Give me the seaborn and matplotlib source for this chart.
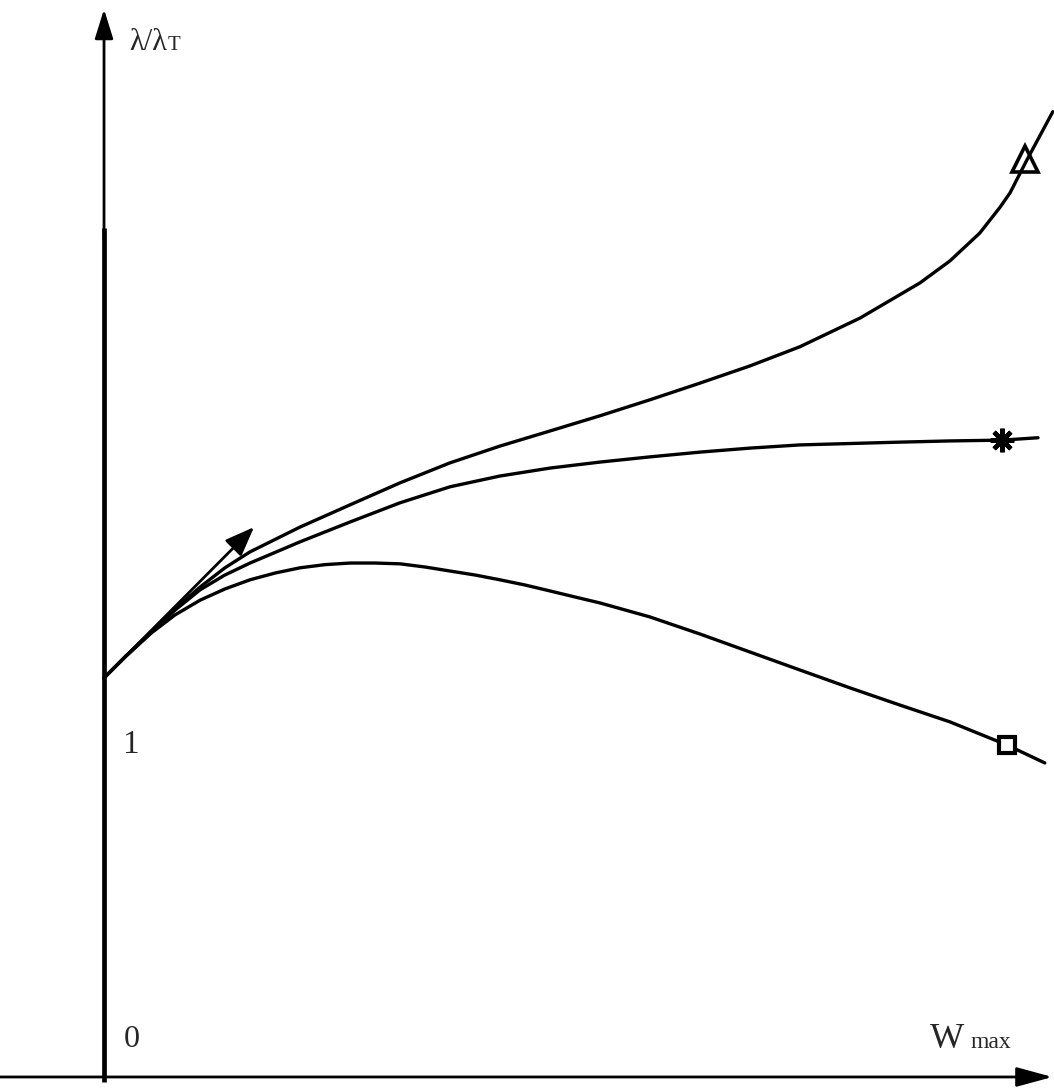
import numpy as np
import pandas as pd
import matplotlib
matplotlib.use("Agg")
import matplotlib.pyplot as plt
import seaborn as sns

# Curve data: x = W_max (arbitrary units), y = lambda / lambda_T
x_up = [0.0, 0.053, 0.115, 0.178, 0.241, 0.303, 0.366, 0.491, 0.617, 0.742, 0.867,
        0.992, 1.118, 1.243, 1.368, 1.494, 1.619, 1.744, 1.895, 2.045, 2.120, 2.195,
        2.246, 2.271, 2.313, 2.378]
y_up = [1.000, 1.053, 1.113, 1.173, 1.228, 1.276, 1.316, 1.378, 1.434, 1.489, 1.539,
        1.581, 1.619, 1.657, 1.697, 1.739, 1.782, 1.830, 1.902, 1.990, 2.045, 2.115,
        2.180, 2.216, 2.298, 2.419]

x_flat = [0.0, 0.053, 0.115, 0.178, 0.241, 0.303, 0.366, 0.491, 0.617, 0.742, 0.867,
          0.992, 1.118, 1.243, 1.368, 1.494, 1.619, 1.744, 1.995, 2.120, 2.251, 2.341]
y_flat = [1.000, 1.053, 1.110, 1.170, 1.221, 1.258, 1.288, 1.341, 1.391, 1.439, 1.479,
          1.506, 1.526, 1.541, 1.554, 1.566, 1.576, 1.584, 1.591, 1.594, 1.596, 1.602]

x_down = [0.0, 0.053, 0.115, 0.178, 0.241, 0.303, 0.366, 0.429, 0.491, 0.554, 0.617,
          0.679, 0.742, 0.805, 0.867, 0.930, 0.992, 1.055, 1.118, 1.180, 1.243, 1.368,
          1.494, 1.619, 1.744, 1.870, 1.995, 2.120, 2.263, 2.358]
y_down = [1.000, 1.053, 1.110, 1.158, 1.195, 1.223, 1.246, 1.263, 1.276, 1.284, 1.288,
          1.288, 1.286, 1.278, 1.268, 1.258, 1.246, 1.233, 1.218, 1.203, 1.188, 1.153,
          1.110, 1.065, 1.020, 0.975, 0.932, 0.890, 0.832, 0.787]

# End markers on each curve
mark_up = (2.308, 2.300)
mark_flat = (2.251, 1.596)
mark_down = (2.263, 0.832)

# Initial tangent arrow
tangent_start = (0.0, 1.0)
tangent_end = (0.376, 1.378)

sns.set_theme(style="white")
plt.rcParams["font.family"] = ["Liberation Serif", "DejaVu Serif"]

fig = plt.figure(figsize=(10.54, 10.88), dpi=100)
ax = fig.add_axes([0, 0, 1, 1])
ax.set_xlim(-0.2607, 2.381)
ax.set_ylim(-0.0276, 2.699)
ax.axis("off")

frames = [
    pd.DataFrame({"x": x_up, "y": y_up, "curve": "up"}),
    pd.DataFrame({"x": x_flat, "y": y_flat, "curve": "flat"}),
    pd.DataFrame({"x": x_down, "y": y_down, "curve": "down"}),
]
df = pd.concat(frames, ignore_index=True)
sns.lineplot(data=df, x="x", y="y", units="curve", estimator=None, sort=False,
             color="black", lw=2.4, ax=ax, legend=False)
for ln in ax.lines:
    ln.set_solid_joinstyle("round")
    ln.set_solid_capstyle("round")

# Markers
ax.plot(*mark_up, marker="^", ms=19, mfc="none", mec="black", mew=2.6, zorder=5)
ax.plot(*mark_flat, marker=(8, 2, 0), ms=17, mec="black", mew=3.2, zorder=5)
ax.plot(*mark_flat, marker="o", ms=8, mfc="black", mec="black", zorder=5)
ax.plot(*mark_down, marker="s", ms=12, mfc="white", mec="black", mew=3.0, zorder=5)

# Tangent arrow
ax.annotate("", xy=tangent_end, xytext=tangent_start,
            arrowprops=dict(arrowstyle="-|>,head_length=0.9,head_width=0.35",
                            color="black", lw=2.0, shrinkA=0, shrinkB=0,
                            mutation_scale=20))

# Axes lines
ax.plot([0, 0], [-0.0125, 2.128], color="black", lw=3.4, solid_capstyle="butt")
ax.annotate("", xy=(0, 2.676), xytext=(0, 2.10),
            arrowprops=dict(arrowstyle="-|>,head_length=0.9,head_width=0.28",
                            color="black", lw=2.0, shrinkA=0, shrinkB=0,
                            mutation_scale=20))
ax.annotate("", xy=(2.377, 0.0), xytext=(-0.2607, 0.0),
            arrowprops=dict(arrowstyle="-|>,head_length=1.1,head_width=0.3",
                            color="black", lw=2.0, shrinkA=0, shrinkB=0,
                            mutation_scale=20))

# Labels
ax.text(0.063, 2.592, "λ/λ", fontsize=22, ha="left", va="center")
ax.text(0.160, 2.586, "T", fontsize=15, ha="left", va="center")
ax.text(0.046, 0.832, "1", fontsize=24, ha="left", va="center")
ax.text(0.050, 0.093, "0", fontsize=23, ha="left", va="center")
ax.text(2.070, 0.095, "W", fontsize=26, ha="left", va="center")
ax.text(2.172, 0.087, "max", fontsize=17, ha="left", va="center")

fig.savefig("out.png", dpi=100, facecolor="white")
